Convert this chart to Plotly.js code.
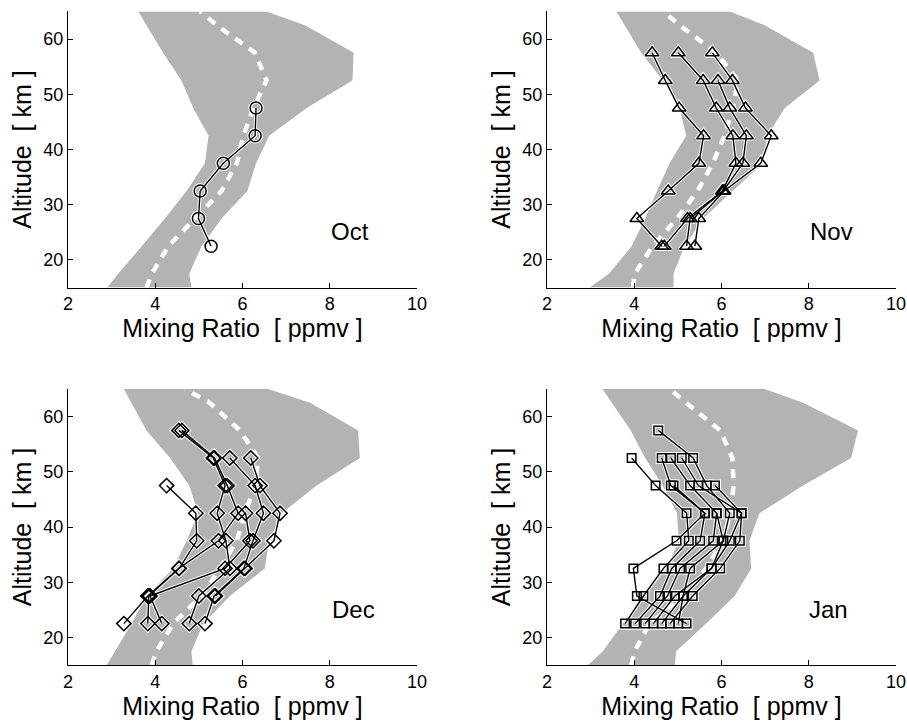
<!DOCTYPE html>
<html>
<head>
<meta charset="utf-8">
<script src="https://cdn.plot.ly/plotly-3.0.1.min.js"></script>
<style>
  html, body { margin: 0; padding: 0; background: #ffffff; }
  #chart { width: 907px; height: 721px; }
</style>
</head>
<body>
<div id="chart"></div>
<script>
// ---- Data ----
const bandAlt = [15, 17.5, 22.5, 27.5, 32.5, 37.5, 42.5, 47.5, 52.5, 57.5, 62.5, 65];

const octLow  = [2.90, 3.15, 3.69, 4.22, 4.72, 5.14, 5.22, 4.87, 4.60, 4.18, 3.80, 3.61];
const octHigh = [4.83, 4.78, 5.06, 5.52, 6.11, 6.31, 6.61, 7.47, 8.52, 8.55, 7.43, 6.55];
const octMean = [3.80, 3.92, 4.30, 4.91, 5.52, 5.87, 6.02, 6.25, 6.55, 6.29, 5.41, 5.03];

const novLow  = [2.98, 3.42, 3.94, 4.25, 4.52, 4.81, 5.19, 5.04, 4.66, 4.16, 3.78, 3.59];
const novHigh = [4.90, 4.90, 5.15, 5.58, 6.25, 6.95, 7.05, 7.45, 8.25, 8.10, 6.99, 6.19];
const novMean = [3.97, 4.01, 4.42, 4.98, 5.45, 5.80, 6.07, 6.26, 6.38, 5.88, 5.04, 4.66];

const decLow  = [2.89, 3.08, 3.46, 3.80, 4.41, 4.72, 4.98, 4.78, 4.34, 3.80, 3.46, 3.28];
const decHigh = [4.86, 4.83, 5.10, 5.71, 6.51, 6.61, 6.90, 7.70, 8.69, 8.65, 7.55, 6.59];
const decMean = [3.92, 4.03, 4.41, 5.06, 5.48, 5.87, 6.06, 6.29, 6.36, 5.94, 5.25, 4.68];

const janLow  = [2.94, 3.28, 3.74, 4.25, 4.74, 5.02, 4.98, 4.65, 4.25, 3.92, 3.50, 3.27];
const janHigh = [4.93, 4.96, 5.65, 6.30, 6.68, 6.64, 6.87, 7.87, 8.97, 9.13, 7.87, 6.99];
const janMean = [3.93, 4.01, 4.35, 5.12, 5.65, 6.03, 6.20, 6.28, 6.25, 5.97, 5.19, 4.81];

// observation altitudes (km)
const obsAlt = [22.5, 27.5, 32.5, 37.5, 42.5, 47.5, 52.5, 57.5];

const octSeries = [
  [5.28, 4.99, 5.03, 5.56, 6.29, 6.31, null, null]
];
const novSeries = [
  [4.63, 4.06, 4.78, 5.48, 5.59, 5.03, 4.71, 4.41],
  [4.69, 5.22, 6.02, 6.33, 6.26, 5.88, 5.58, 5.01],
  [5.20, 5.28, 6.04, 6.49, 6.57, 6.19, 5.92, null],
  [5.39, 5.48, 6.06, 6.90, 7.14, 6.55, 6.25, 5.79]
];
const decSeries = [
  [4.78, 5.00, 5.71, 5.62, 5.42, 5.60, 5.33, 4.54],
  [3.28, 3.83, 4.54, 5.45, 5.90, 5.65, 5.36, 4.61],
  [5.14, 5.35, 6.03, 6.24, 6.48, 6.29, 5.71, null],
  [null, 5.38, 6.06, 6.72, 6.86, 6.40, 6.19, null],
  [3.83, 3.85, 4.55, 4.95, 4.93, 4.26, null, null],
  [4.15, 3.88, 5.60, 6.17, 6.07, null, null, null]
];
const janSeries = [
  [4.63, 5.12, 5.77, 6.04, 6.19, 5.66, 5.35, 4.55],
  [3.79, 4.21, 4.67, 5.25, 5.20, 4.49, 3.94, null],
  [4.02, 4.59, 4.86, 5.51, 5.62, 4.84, 4.63, null],
  [4.25, 4.76, 5.05, 5.81, 5.89, 5.28, 4.84, null],
  [4.82, 5.34, 5.97, 6.42, 6.46, 5.47, 5.09, null],
  [5.20, 4.06, 3.98, 4.97, 5.62, 4.90, null, null],
  [4.44, 4.93, 5.77, 6.19, 6.46, 5.85, null, null],
  [5.01, 5.12, 5.28, 6.04, 5.89, null, null, null]
];

const monthLabels = ['Oct', 'Nov', 'Dec', 'Jan'];
const xTicks = [2, 4, 6, 8, 10];
const yTicks = [20, 30, 40, 50, 60];

// ---- Build ----
const FONT = 'Liberation Sans, Arial, Helvetica, sans-serif';
const GRAY = '#b3b3b3';

const panels = [
  {low: octLow, high: octHigh, mean: octMean, series: octSeries, symbol: 'circle-open', size: 12, xa: 'x', ya: 'y'},
  {low: novLow, high: novHigh, mean: novMean, series: novSeries, symbol: 'triangle-up-open', size: 12, xa: 'x2', ya: 'y2'},
  {low: decLow, high: decHigh, mean: decMean, series: decSeries, symbol: 'diamond-open', size: 11, xa: 'x3', ya: 'y3'},
  {low: janLow, high: janHigh, mean: janMean, series: janSeries, symbol: 'square-open', size: 8.5, xa: 'x4', ya: 'y4'}
];

const traces = [];
panels.forEach(p => {
  traces.push({
    type: 'scatter', mode: 'lines', xaxis: p.xa, yaxis: p.ya,
    x: p.low.concat(p.high.slice().reverse()),
    y: bandAlt.concat(bandAlt.slice().reverse()),
    fill: 'toself', fillcolor: GRAY, line: {width: 0, color: GRAY},
    hoverinfo: 'skip'
  });
  traces.push({
    type: 'scatter', mode: 'lines', xaxis: p.xa, yaxis: p.ya,
    x: p.mean, y: bandAlt,
    line: {color: '#ffffff', width: 4.5, dash: '9px,8px'}
  });
  p.series.forEach(s => {
    traces.push({
      type: 'scatter', mode: 'lines+markers', xaxis: p.xa, yaxis: p.ya,
      x: s, y: obsAlt, connectgaps: false,
      line: {color: '#ffffff', width: 3.4},
      marker: {symbol: p.symbol, size: p.size, color: '#ffffff', line: {width: 3.6, color: '#ffffff'}}
    });
  });
  p.series.forEach(s => {
    traces.push({
      type: 'scatter', mode: 'lines+markers', xaxis: p.xa, yaxis: p.ya,
      x: s, y: obsAlt, connectgaps: false,
      line: {color: '#000000', width: 1.4},
      marker: {symbol: p.symbol, size: p.size, color: '#000000', line: {width: 1.5, color: '#000000'}}
    });
  });
});

function xAxis(domain, anchor) {
  return {
    domain: domain, anchor: anchor, range: [2, 10], tickvals: xTicks,
    ticks: 'inside', ticklen: 5, tickwidth: 1, tickcolor: '#000',
    showline: true, linecolor: '#000', linewidth: 1, mirror: false,
    showgrid: false, zeroline: false,
    tickfont: {family: FONT, size: 18, color: '#000'},
    title: {text: 'Mixing Ratio  [ ppmv ]', font: {family: FONT, size: 25, color: '#000'}, standoff: 4}
  };
}
function yAxis(domain, anchor) {
  return {
    domain: domain, anchor: anchor, range: [15, 65], tickvals: yTicks,
    ticks: 'inside', ticklen: 5, tickwidth: 1, tickcolor: '#000',
    showline: true, linecolor: '#000', linewidth: 1, mirror: false,
    showgrid: false, zeroline: false,
    tickfont: {family: FONT, size: 18, color: '#000'},
    title: {text: 'Altitude  [ km ]', font: {family: FONT, size: 25, color: '#000'}, standoff: 4}
  };
}

const W = 907, H = 721;
const xdL = [68 / W, 417 / W];
const xdR = [547 / W, 896 / W];
const ydT = [1 - 287.6 / H, 1 - 11.4 / H];
const ydB = [1 - 665 / H, 1 - 389 / H];

const labelPos = [
  {x: 8.46, y: 25.1, xref: 'x', yref: 'y'},
  {x: 8.53, y: 25.1, xref: 'x2', yref: 'y2'},
  {x: 8.55, y: 25.0, xref: 'x3', yref: 'y3'},
  {x: 8.46, y: 25.0, xref: 'x4', yref: 'y4'}
];

const layout = {
  width: W, height: H,
  margin: {l: 0, r: 0, t: 0, b: 0},
  paper_bgcolor: '#ffffff', plot_bgcolor: '#ffffff',
  showlegend: false,
  font: {family: FONT, color: '#000'},
  xaxis: xAxis(xdL, 'y'), yaxis: yAxis(ydT, 'x'),
  xaxis2: xAxis(xdR, 'y2'), yaxis2: yAxis(ydT, 'x2'),
  xaxis3: xAxis(xdL, 'y3'), yaxis3: yAxis(ydB, 'x3'),
  xaxis4: xAxis(xdR, 'y4'), yaxis4: yAxis(ydB, 'x4'),
  annotations: monthLabels.map((m, i) => ({
    text: m, x: labelPos[i].x, y: labelPos[i].y, xref: labelPos[i].xref, yref: labelPos[i].yref,
    showarrow: false, font: {family: FONT, size: 24, color: '#000'}, xanchor: 'center', yanchor: 'middle'
  }))
};

Plotly.newPlot('chart', traces, layout, {staticPlot: true, displayModeBar: false});
</script>
</body>
</html>
